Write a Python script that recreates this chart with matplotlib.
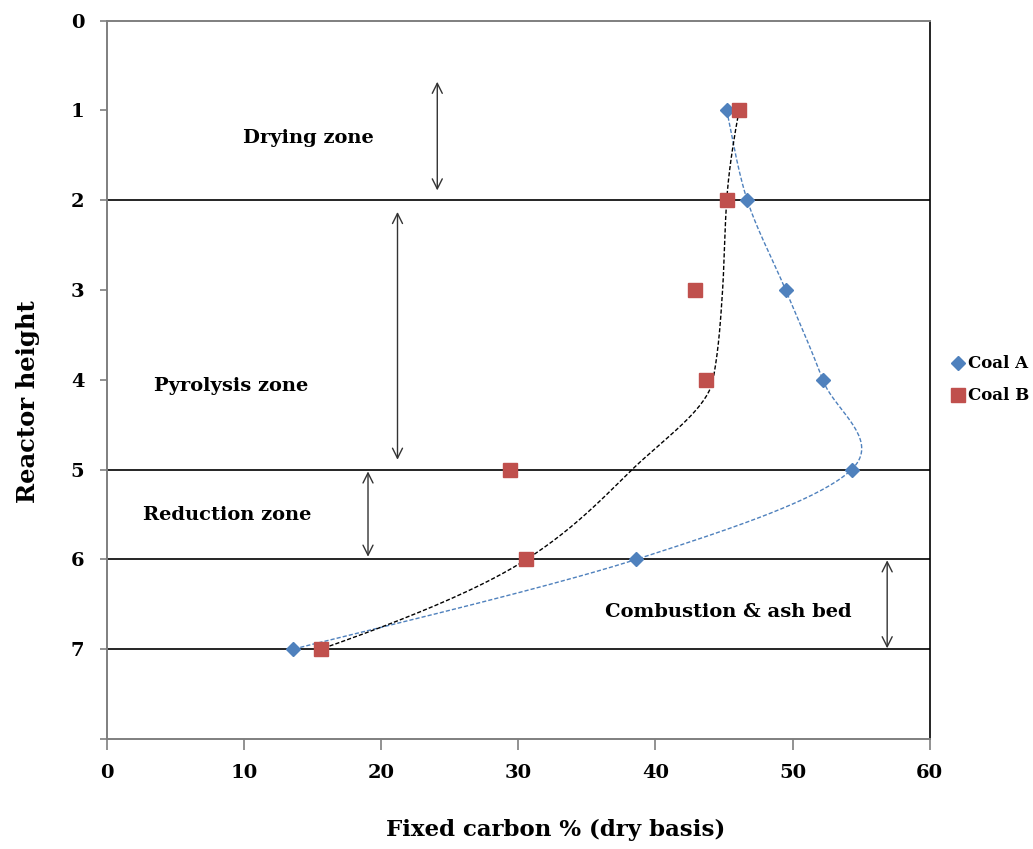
import matplotlib.pyplot as plt
import numpy as np

plt.rcParams['font.family'] = ['DejaVu Serif']
plt.rcParams['font.weight'] = 'bold'
plt.rcParams['axes.labelweight'] = 'bold'

# 反应器高度
height = [1, 2, 3, 4, 5, 6, 7]
# 固定碳 % (干基)
coal_a = [45.2, 46.7, 49.5, 52.2, 54.3, 38.6, 13.6]
coal_b = [46.1, 45.2, 42.9, 43.7, 29.4, 30.6, 15.6]
# 黑色趋势线
trend_b = [46.1, 45.2, 44.9, 44.2, 38.3, 30.6, 15.6]
# 分区界线
zone_lines = [2, 5, 6, 7]


# Excel 式平滑曲线 (在屏幕坐标中做 Bezier)
def smooth(ax, xs, ys, n=40):
    pts = ax.transData.transform(np.column_stack([xs, ys]))
    p = np.vstack([pts[0], pts, pts[-1]])
    t = np.linspace(0, 1, n)[:, None]
    out = []
    for i in range(1, len(p) - 2):
        p0, p1, p2, p3 = p[i - 1], p[i], p[i + 1], p[i + 2]
        c1 = p1 + (p2 - p0) / 6
        c2 = p2 - (p3 - p1) / 6
        seg = (1 - t) ** 3 * p1 + 3 * (1 - t) ** 2 * t * c1 + 3 * (1 - t) * t ** 2 * c2 + t ** 3 * p2
        out.append(seg)
    d = ax.transData.inverted().transform(np.vstack(out))
    return d[:, 0], d[:, 1]


# 单调三次插值 (趋势线, x 为 y 的函数)
def pchip(ys, xs, n=40):
    y = np.asarray(ys, float)
    x = np.asarray(xs, float)
    h = np.diff(y)
    delta = np.diff(x) / h
    d = np.zeros_like(x)
    for k in range(1, len(x) - 1):
        if delta[k - 1] * delta[k] > 0:
            w1 = 2 * h[k] + h[k - 1]
            w2 = h[k] + 2 * h[k - 1]
            d[k] = (w1 + w2) / (w1 / delta[k - 1] + w2 / delta[k])
    d[0] = ((2 * h[0] + h[1]) * delta[0] - h[0] * delta[1]) / (h[0] + h[1])
    d[-1] = ((2 * h[-1] + h[-2]) * delta[-1] - h[-1] * delta[-2]) / (h[-1] + h[-2])
    for i in (0, -1):
        if d[i] * delta[i] <= 0:
            d[i] = 0
    yy, xx = [], []
    t = np.linspace(0, 1, n)
    for k in range(len(h)):
        h00 = 2 * t ** 3 - 3 * t ** 2 + 1
        h10 = t ** 3 - 2 * t ** 2 + t
        h01 = -2 * t ** 3 + 3 * t ** 2
        h11 = t ** 3 - t ** 2
        xx.append(h00 * x[k] + h10 * h[k] * d[k] + h01 * x[k + 1] + h11 * h[k] * d[k + 1])
        yy.append(y[k] + t * h[k])
    return np.concatenate(xx), np.concatenate(yy)


fig = plt.figure(figsize=(10.33, 8.49), dpi=100)
ax = fig.add_axes([0.1033, 0.1296, 0.7967, 0.846])
ax.set_xlim(0, 60)
ax.set_ylim(8, 0)

# 坐标轴样式
for s in ['left', 'bottom', 'top']:
    ax.spines[s].set_color('#7f7f7f')
    ax.spines[s].set_linewidth(1.4)
ax.spines['right'].set_color('black')
ax.spines['right'].set_linewidth(1.2)

ax.set_xticks(range(0, 61, 10))
ax.set_yticks(range(0, 9))
ax.set_yticklabels([str(i) for i in range(8)] + [''])
ax.tick_params(axis='x', length=8, width=1.2, color='#7f7f7f', pad=10, labelsize=14)
ax.tick_params(axis='y', length=5, width=1.2, color='#7f7f7f', pad=11, labelsize=14)

# 分区线
ax.hlines(zone_lines, 0, 60, colors='black', linewidth=1.2)

# 平滑曲线
xa, ya = smooth(ax, coal_a, height)
ax.plot(xa, ya, color='#4F81BD', linewidth=1.0, linestyle=(0, (3, 1.5)))
xb, yb = pchip(height, trend_b)
ax.plot(xb, yb, color='black', linewidth=1.0, linestyle=(0, (3, 1.5)))

# 数据点
ax.plot(coal_a, height, 'D', color='#4F81BD', markersize=7.5, label='Coal A')
ax.plot(coal_b, height, 's', color='#C0504D', markersize=9.5, label='Coal B')

# 区域箭头与文字
arrow = dict(arrowstyle='<->', color='#333333', linewidth=1.0,
             shrinkA=0, shrinkB=0, mutation_scale=18)
ax.annotate('', xy=(24.1, 0.68), xytext=(24.1, 1.89), arrowprops=arrow)
ax.annotate('', xy=(21.2, 2.13), xytext=(21.2, 4.89), arrowprops=arrow)
ax.annotate('', xy=(19.05, 5.02), xytext=(19.05, 5.97), arrowprops=arrow)
ax.annotate('', xy=(56.9, 6.01), xytext=(56.9, 6.99), arrowprops=arrow)

ax.text(14.7, 1.31, 'Drying zone', ha='center', va='center', fontsize=14)
ax.text(9.1, 4.07, 'Pyrolysis zone', ha='center', va='center', fontsize=14)
ax.text(8.8, 5.5, 'Reduction zone', ha='center', va='center', fontsize=14)
ax.text(45.3, 6.59, 'Combustion & ash bed', ha='center', va='center', fontsize=14)

ax.set_xlabel('Fixed carbon % (dry basis)', fontsize=16.5, va='center')
ax.xaxis.set_label_coords(0.546, -0.127)
ax.set_ylabel('Reactor height', fontsize=17.5, va='center')
ax.yaxis.set_label_coords(-0.096, 0.47)

ax.legend(loc='center left', bbox_to_anchor=(1.01, 0.5), frameon=False,
          fontsize=12, handlelength=0.6, handletextpad=0.3, labelspacing=0.9,
          borderaxespad=0.5)

fig.savefig('out.png', dpi=100)
